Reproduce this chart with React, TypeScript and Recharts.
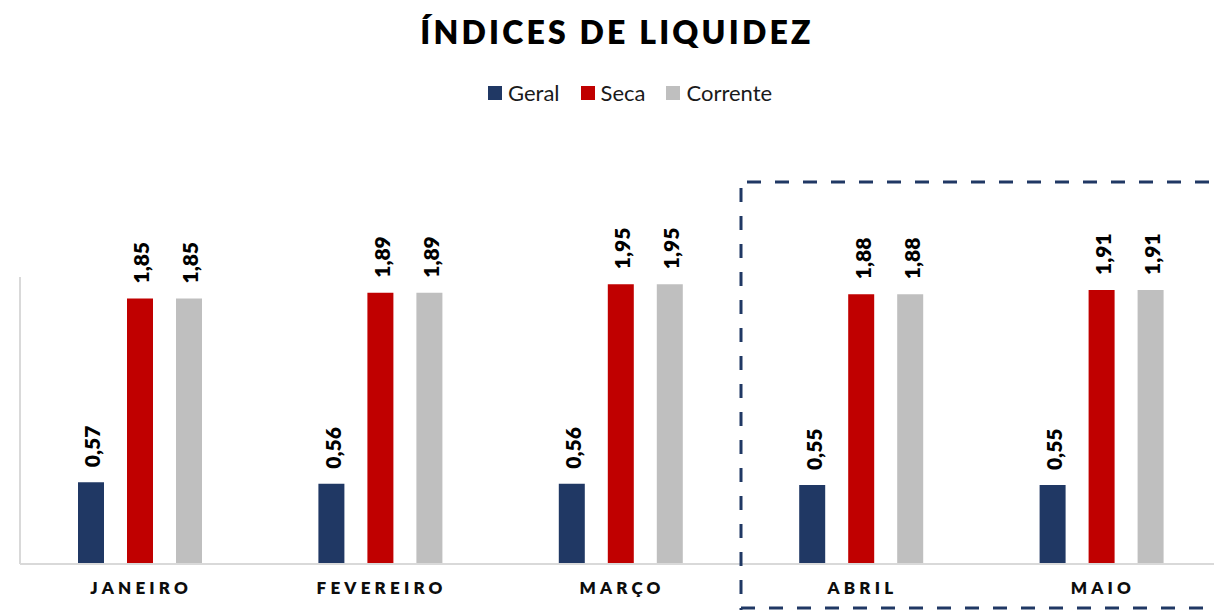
import React from "react";
import { BarChart, Bar, XAxis, YAxis, CartesianGrid, LabelList } from "recharts";

const months = ["JANEIRO", "FEVEREIRO", "MARÇO", "ABRIL", "MAIO"];
const geral = [0.57, 0.56, 0.56, 0.55, 0.55];
const seca = [1.85, 1.89, 1.95, 1.88, 1.91];
const corrente = [1.85, 1.89, 1.95, 1.88, 1.91];
const seriesNames = ["Geral", "Seca", "Corrente"];
const seriesKeys = ["geral", "seca", "corrente"];
const seriesColors = ["#203864", "#C00000", "#BFBFBF"];
const boundaryTicks = [0, 1, 2, 3, 4, 5];
const highlightFrom = 3; // ABRIL onwards

const data = months.map((m, i) => ({
  month: m,
  idx: i,
  geral: geral[i],
  seca: seca[i],
  corrente: corrente[i],
}));

const FONT = "Lato, 'Open Sans', sans-serif";
const CHART_W = 1240;
const CHART_H = 610;
const MARGIN = { top: 277, right: 18, bottom: 6, left: 20 };
const plotW = CHART_W - MARGIN.left - MARGIN.right;
const band = plotW / months.length;

const fmt = (v: number) => v.toFixed(2).replace(".", ",");

const ValueLabel = (props: any) => {
  const { x, y, width, value } = props;
  const cx = x + width / 2 + 1;
  const cy = y - 15;
  return (
    <text
      x={cx}
      y={cy}
      transform={`rotate(-90, ${cx}, ${cy})`}
      textAnchor="start"
      dominantBaseline="central"
      fontFamily={FONT}
      fontWeight={800}
      fontSize={21}
      fill="#000"
    >
      {fmt(Number(value))}
    </text>
  );
};

const MonthTick = (props: any) => {
  const { x, y, payload } = props;
  return (
    <text
      x={x + 1}
      y={y + 22}
      textAnchor="middle"
      fontFamily={FONT}
      fontWeight={800}
      fontSize={17}
      letterSpacing={4.2}
      fill="#0d0d0d"
    >
      {payload.value}
    </text>
  );
};

export default function App() {
  return (
    <div
      style={{
        position: "absolute",
        left: 0,
        top: 0,
        width: 1214,
        height: 610,
        overflow: "hidden",
        background: "#fff",
        fontFamily: FONT,
      }}
    >
      <div
        style={{
          position: "absolute",
          top: 12,
          left: 0,
          width: 1234,
          textAlign: "center",
          fontSize: 32,
          fontWeight: 800,
          letterSpacing: 3.2,
          color: "#000",
        }}
      >
        ÍNDICES DE LIQUIDEZ
      </div>
      <div
        style={{
          position: "absolute",
          top: 79,
          left: 488,
          display: "flex",
          alignItems: "center",
          fontSize: 22,
          color: "#1a1a1a",
        }}
      >
        {seriesNames.map((n, i) => (
          <div key={n} style={{ display: "flex", alignItems: "center", marginRight: 21 }}>
            <span
              style={{
                display: "inline-block",
                width: 14,
                height: 14,
                background: seriesColors[i],
                marginRight: 6,
              }}
            />
            <span>{n}</span>
          </div>
        ))}
      </div>
      <div style={{ position: "absolute", left: 0, top: 0 }}>
        <BarChart
          width={CHART_W}
          height={CHART_H}
          data={data}
          margin={MARGIN}
          barSize={26}
          barGap={23}
        >
          <XAxis
            xAxisId="num"
            dataKey="idx"
            type="number"
            domain={[0, 5]}
            ticks={boundaryTicks}
            height={0}
            axisLine={false}
            tick={false}
            tickLine={{ stroke: "#D9D9D9", strokeWidth: 2 }}
            tickSize={6}
          />
          <XAxis
            xAxisId="cat"
            dataKey="month"
            height={40}
            axisLine={{ stroke: "#D9D9D9", strokeWidth: 2 }}
            tickLine={false}
            tick={<MonthTick />}
            interval={0}
          />
          <YAxis hide domain={[0, 2]} />
          <CartesianGrid
            xAxisId="num"
            horizontal={false}
            vertical
            stroke="#D9D9D9"
            strokeWidth={2}
          />
          {seriesKeys.map((k, i) => (
            <Bar
              key={k}
              xAxisId="cat"
              dataKey={k}
              name={seriesNames[i]}
              fill={seriesColors[i]}
              isAnimationActive={false}
            >
              <LabelList dataKey={k} content={<ValueLabel />} />
            </Bar>
          ))}
        </BarChart>
      </div>
      <div
        style={{
          position: "absolute",
          left: MARGIN.left + band * highlightFrom - 2,
          top: 180,
          width: 600,
          height: 428,
          boxSizing: "border-box",
        }}
      >
        <svg width={600} height={440} style={{ position: "absolute", left: 0, top: 0 }}>
          <line x1={2} y1={2} x2={600} y2={2} stroke="#203864" strokeWidth={3} strokeDasharray="14 14" strokeDashoffset={-6} />
          <line x1={2} y1={2} x2={2} y2={440} stroke="#203864" strokeWidth={3} strokeDasharray="14 14" strokeDashoffset={-6} />
          <line x1={2} y1={428} x2={600} y2={428} stroke="#203864" strokeWidth={3} strokeDasharray="14 14" />
        </svg>
      </div>
    </div>
  );
}
